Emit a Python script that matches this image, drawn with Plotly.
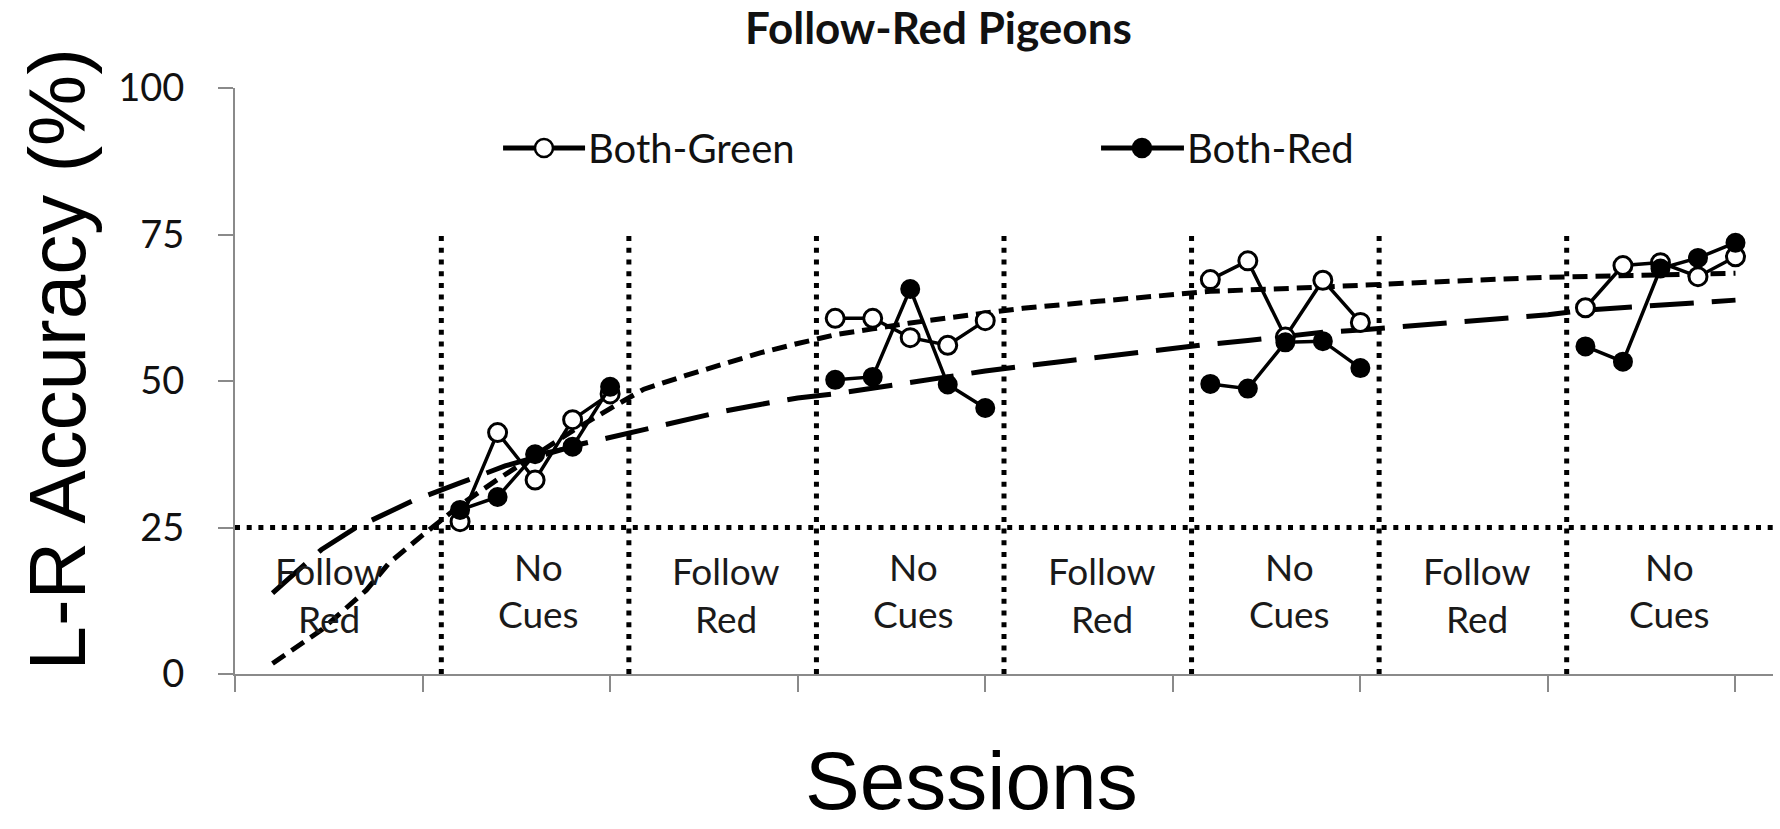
import plotly.graph_objects as go

# ---------------- data ----------------
block_sessions = [[6, 7, 8, 9, 10], [16, 17, 18, 19, 20], [26, 27, 28, 29, 30], [36, 37, 38, 39, 40]]
both_green = [[26.0, 41.2, 33.1, 43.4, 47.8],
              [60.7, 60.7, 57.4, 56.1, 60.3],
              [67.3, 70.5, 57.5, 67.2, 60.0],
              [62.5, 69.7, 70.2, 67.8, 71.2]]
both_red = [[28.0, 30.2, 37.5, 38.8, 49.0],
            [50.2, 50.7, 65.7, 49.4, 45.4],
            [49.5, 48.7, 56.6, 56.8, 52.2],
            [55.9, 53.3, 69.2, 71.0, 73.6]]

green_trend_x = [1, 2.3, 3.5, 4.1, 5, 6, 7, 8, 9, 10, 10.9, 12, 13, 14, 15, 16, 17, 18, 20, 21, 23, 25, 26, 28.5, 31, 33, 35, 36, 38, 40]
green_trend_y = [1.8, 7.5, 14.3, 18.9, 23.7, 28.8, 33.2, 37.3, 41.5, 45.3, 48.6, 50.9, 52.9, 54.8, 56.4, 57.9, 58.9, 59.9, 61.6, 62.4, 63.6, 64.7, 65.3, 65.9, 66.7, 67.2, 67.7, 67.8, 68.1, 68.4]
red_trend_x = [1, 1.8, 2.3, 3.2, 3.7, 4.75, 6, 7.2, 9.2, 10, 10.9, 12, 13, 14, 15, 16, 17, 18, 20, 22, 24, 26, 27, 29, 30, 31, 32, 33, 34, 35, 36, 37, 38, 39, 40]
red_trend_y = [13.8, 18.3, 21.2, 24.9, 26.4, 29.6, 32.6, 35.5, 39.2, 40.4, 41.6, 43.3, 44.8, 46.0, 47.1, 47.8, 48.8, 49.6, 51.7, 53.3, 54.9, 56.3, 56.9, 58.3, 58.7, 59.2, 59.9, 60.3, 60.7, 61.3, 62.1, 62.5, 62.9, 63.3, 63.8]

block_boundaries = [5.5, 10.5, 15.5, 20.5, 25.5, 30.5, 35.5]
chance_level = 25
block_top = 75
block_line1 = ["Follow", "No", "Follow", "No", "Follow", "No", "Follow", "No"]
block_line2 = ["Red", "Cues", "Red", "Cues", "Red", "Cues", "Red", "Cues"]
y_ticks = [0, 25, 50, 75, 100]
x_ticks = [0, 5, 10, 15, 20, 25, 30, 35, 40]
x_range = [0, 41]

series_names = ["Both-Green", "Both-Red"]

# ---------------- helpers ----------------
def join_blocks(xs_list, ys_list):
    xs, ys = [], []
    for i, (bx, by) in enumerate(zip(xs_list, ys_list)):
        if i:
            xs.append(None)
            ys.append(None)
        xs.extend(bx)
        ys.extend(by)
    return xs, ys

BLACK = "#000000"
AXIS = "#8a8a8a"
CAL = "Lato, 'Open Sans', sans-serif"
ARIAL = "'Liberation Sans', Arial, sans-serif"

fig = go.Figure()

# trend lines
fig.add_trace(go.Scatter(x=green_trend_x, y=green_trend_y, mode="lines",
                         line=dict(color=BLACK, width=5, dash="15px,8px"),
                         showlegend=False, hoverinfo="skip"))
fig.add_trace(go.Scatter(x=red_trend_x, y=red_trend_y, mode="lines",
                         line=dict(color=BLACK, width=5, dash="44px,18px"),
                         showlegend=False, hoverinfo="skip"))

gx, gy = join_blocks(block_sessions, both_green)
rx, ry = join_blocks(block_sessions, both_red)
fig.add_trace(go.Scatter(x=gx, y=gy, mode="lines+markers", name=series_names[0],
                         line=dict(color=BLACK, width=3.5),
                         marker=dict(symbol="circle", size=18, color="white",
                                     line=dict(color=BLACK, width=3)),
                         showlegend=False))
fig.add_trace(go.Scatter(x=rx, y=ry, mode="lines+markers", name=series_names[1],
                         line=dict(color=BLACK, width=3.5),
                         marker=dict(symbol="circle", size=18, color=BLACK,
                                     line=dict(color=BLACK, width=2)),
                         showlegend=False))

shapes = []
DOT = "5px,6.7px"
# chance line
shapes.append(dict(type="line", xref="x", yref="y", x0=x_range[0], x1=x_range[1],
                   y0=chance_level, y1=chance_level, layer="below",
                   line=dict(color=BLACK, width=5, dash=DOT)))
for b in block_boundaries:
    shapes.append(dict(type="line", xref="x", yref="y", x0=b, x1=b, y0=0, y1=block_top,
                       layer="below", line=dict(color=BLACK, width=5, dash=DOT)))

# manual legend
legend_y = 0.8976
legend_items = [
    dict(x0=0.1743, x1=0.2276, xm=0.2009, xt=0.2285, fill="white"),
    dict(x0=0.5631, x1=0.6170, xm=0.5897, xt=0.6176, fill=BLACK),
]
annotations = []
for name, it in zip(series_names, legend_items):
    shapes.append(dict(type="line", xref="paper", yref="paper", x0=it["x0"], x1=it["x1"],
                       y0=legend_y, y1=legend_y, line=dict(color=BLACK, width=5)))
    shapes.append(dict(type="circle", xref="paper", yref="paper",
                       xsizemode="pixel", ysizemode="pixel",
                       xanchor=it["xm"], yanchor=legend_y,
                       x0=-9, x1=9, y0=-9, y1=9,
                       fillcolor=it["fill"], line=dict(color=BLACK, width=2.5)))
    annotations.append(dict(xref="paper", yref="paper", x=it["xt"], y=legend_y,
                            text=name, showarrow=False, xanchor="left", yanchor="middle",
                            font=dict(family=CAL, size=40, color="#111111")))

# block labels
label_edges = [-0.5] + block_boundaries + [x_range[1]]
for i, (l1, l2) in enumerate(zip(block_line1, block_line2)):
    cx = (label_edges[i] + label_edges[i + 1]) / 2 + (0.1 if 0 < i < 7 else 0.0)
    top_y = 17.6 if l1 == "Follow" else 18.3
    bot_y = 9.4 if l2 == "Red" else 10.4
    annotations.append(dict(xref="x", yref="y", x=cx, y=top_y, text=l1, showarrow=False,
                            xanchor="center", yanchor="middle",
                            font=dict(family=CAL, size=37, color="#1a1a1a")))
    annotations.append(dict(xref="x", yref="y", x=cx, y=bot_y, text=l2, showarrow=False,
                            xanchor="center", yanchor="middle",
                            font=dict(family=CAL, size=37, color="#1a1a1a")))

# title & axis titles
annotations.append(dict(xref="paper", yref="paper", x=0.4571, y=1.1038,
                        text="<b>Follow-Red Pigeons</b>", showarrow=False,
                        xanchor="center", yanchor="middle",
                        font=dict(family=CAL, size=44, color="#111111")))
annotations.append(dict(xref="paper", yref="paper", x=-0.1157, y=0.5367,
                        text="L-R Accuracy (%)", showarrow=False, textangle=-90,
                        xanchor="center", yanchor="middle",
                        font=dict(family=ARIAL, size=80, color=BLACK)))
annotations.append(dict(xref="paper", yref="paper", x=0.479, y=-0.1809,
                        text="Sessions", showarrow=False,
                        xanchor="center", yanchor="middle",
                        font=dict(family=ARIAL, size=82, color=BLACK)))

fig.update_layout(
    width=1780, height=829,
    margin=dict(l=235, r=7, t=88, b=155, pad=0),
    paper_bgcolor="white", plot_bgcolor="white",
    shapes=shapes, annotations=annotations,
    showlegend=False,
    xaxis=dict(range=x_range, tickvals=x_ticks, showticklabels=False,
               ticks="outside", ticklen=16, tickwidth=2, tickcolor=AXIS,
               showline=True, linecolor=AXIS, linewidth=2,
               showgrid=False, zeroline=False),
    yaxis=dict(range=[0, 100], tickvals=y_ticks, ticktext=[str(v) for v in y_ticks],
               ticks="outside", ticklen=15, tickwidth=2, tickcolor=AXIS,
               ticklabelstandoff=26,
               tickfont=dict(family=CAL, size=38, color="#111111"),
               showline=True, linecolor=AXIS, linewidth=2,
               showgrid=False, zeroline=False),
)

fig.write_html("out.html")
